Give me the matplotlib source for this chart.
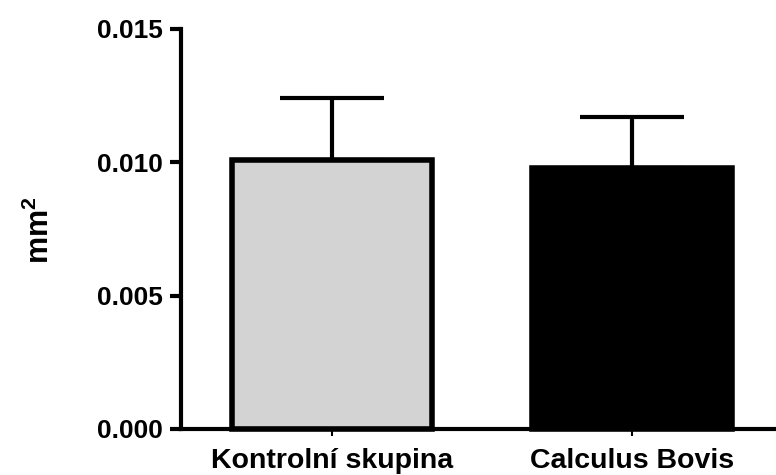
import matplotlib
matplotlib.use("Agg")
import matplotlib.pyplot as plt

categories = ["Kontrolní skupina", "Calculus Bovis"]
means = [0.0101, 0.0098]
sem = [0.0023, 0.0019]
colors = ["#d3d3d3", "#000000"]
yticks = [0.000, 0.005, 0.010, 0.015]
ytick_labels = ["0.000", "0.005", "0.010", "0.015"]

plt.rcParams['font.family'] = ['Liberation Sans', 'DejaVu Sans']
plt.rcParams['font.weight'] = 'bold'
plt.rcParams['mathtext.fontset'] = 'custom'
plt.rcParams['mathtext.rm'] = 'Liberation Sans:bold'
plt.rcParams['mathtext.it'] = 'Liberation Sans:bold'
plt.rcParams['mathtext.bf'] = 'Liberation Sans:bold'

fig = plt.figure(figsize=(7.76, 4.75), dpi=100)
ax = fig.add_axes([181/776, 1 - 429/475, 1 - 181/776, 400/475])

x = list(range(len(categories)))
ax.errorbar(x, means, yerr=[[0]*len(sem), sem], fmt='none', ecolor='black',
            elinewidth=3, capsize=37.5, capthick=3, zorder=1)
bars = ax.bar(x, means, width=0.667, color=colors, edgecolor='black',
              linewidth=4, zorder=2)
for b in bars:
    b.set_clip_on(False)

ax.set_xlim(-0.503, 1.48)
ax.set_ylim(0, 0.015)
ax.set_yticks(yticks)
ax.set_yticklabels(ytick_labels)
ax.set_xticks(x)
ax.set_xticklabels(categories)

for s in ['top', 'right']:
    ax.spines[s].set_visible(False)
for s in ['left', 'bottom']:
    ax.spines[s].set_linewidth(3)

ax.tick_params(axis='y', length=8, width=3, labelsize=19, pad=5)
ax.tick_params(axis='x', length=5, width=1.5, labelsize=20.5, pad=9)
for lab in ax.get_xticklabels() + ax.get_yticklabels():
    lab.set_fontweight('bold')

ax.set_ylabel(r'mm$^2$', fontsize=22, fontweight='bold', labelpad=0)
ax.yaxis.set_label_coords(-0.238, 0.5)
ax.yaxis.label.set_verticalalignment('center')
ax.yaxis.set_label_coords((40 - 181) / 595, (429 - 230) / 400)

fig.savefig("out.png", dpi=100)
